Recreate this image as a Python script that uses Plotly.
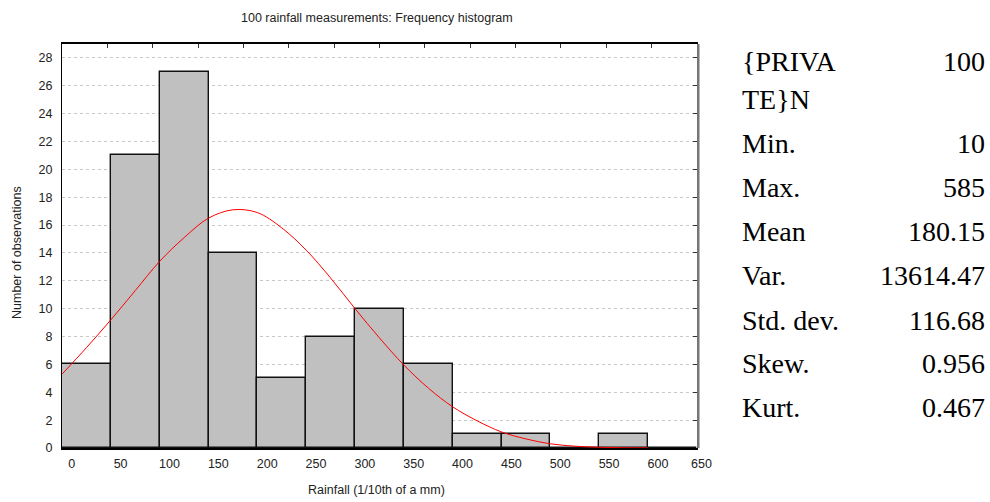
import plotly.graph_objects as go

# ---------------- data ----------------
bin_starts = [-10, 40, 90, 140, 190, 240, 290, 340, 390, 440, 490, 540, 590]
bin_width = 50
counts = [6, 21, 27, 14, 5, 8, 10, 6, 1, 1, 0, 1, 0]

# fitted normal curve
curve_x = [-10, 15, 40, 65, 90, 115, 140, 165, 190, 215, 240, 265, 290, 315,
           340, 365, 390, 415, 440, 465, 490, 515, 540, 565, 590]
curve_y = [5.3, 7.2, 9.2, 11.3, 13.4, 15.1, 16.5, 17.1, 16.9, 15.8, 14.2, 12.2,
           10.0, 7.9, 5.95, 4.3, 2.95, 1.95, 1.15, 0.65, 0.3, 0.13, 0.05, 0.02, 0.01]

x_ticks = [0, 50, 100, 150, 200, 250, 300, 350, 400, 450, 500, 550, 600, 650]
y_ticks = list(range(0, 29, 2))

stat_labels = ["{PRIVA", "TE}N", "Min.", "Max.", "Mean", "Var.", "Std. dev.", "Skew.", "Kurt."]
stat_values = ["100", "", "10", "585", "180.15", "13614.47", "116.68", "0.956", "0.467"]

title = "100 rainfall measurements: Frequency histogram"
x_title = "Rainfall (1/10th of a mm)"
y_title = "Number of observations"

# ---------------- layout constants (page pixels) ----------------
W, H = 990, 502
plot_left, plot_right, plot_top, plot_bottom = 62, 697, 44, 448
L = plot_left
T = plot_top
R = W - plot_right
B = H - plot_bottom
PW = plot_right - plot_left
PH = plot_bottom - plot_top
x_range = [-10, 640]
y_range = [0, 29]

centers = [s + bin_width / 2 for s in bin_starts]

fig = go.Figure()
fig.add_trace(go.Bar(
    x=centers, y=counts, width=bin_width,
    marker=dict(color="#c0c0c0", line=dict(color="#111111", width=1.4)),
    showlegend=False, hoverinfo="x+y",
))
fig.add_trace(go.Scatter(
    x=curve_x, y=curve_y, mode="lines",
    line=dict(color="#ff0000", width=1, shape="spline"),
    showlegend=False, cliponaxis=True,
))

tick_font = dict(family="Liberation Sans, Arial, sans-serif", size=12.5, color="#222222")

shown_x = [v for v in x_ticks if x_range[0] <= v <= x_range[1]]
fig.update_layout(
    width=W, height=H,
    margin=dict(l=L, r=R, t=T, b=B, pad=0),
    paper_bgcolor="white", plot_bgcolor="white",
    bargap=0,
    xaxis=dict(
        range=x_range, tickmode="array", tickvals=shown_x,
        ticktext=[str(v) for v in shown_x],
        showgrid=False, zeroline=False, ticks="", ticklabelstandoff=3,
        showline=True, linecolor="#000000", linewidth=1.5, mirror=True,
        tickfont=tick_font,
    ),
    yaxis=dict(
        range=y_range, tickmode="array", tickvals=y_ticks,
        ticktext=[str(v) for v in y_ticks],
        showgrid=True, gridcolor="#c8c8c8", griddash="dot", gridwidth=1,
        zeroline=False, ticks="", ticklabelstandoff=6,
        showline=True, linecolor="#000000", linewidth=1.2, mirror=True,
        tickfont=tick_font,
    ),
    xaxis2=dict(range=[0, 14], dtick=1, overlaying="x", side="top",
                ticks="inside", ticklen=4, tickcolor="#333333",
                showticklabels=False, showgrid=False, zeroline=False),
    yaxis2=dict(range=y_range, dtick=2, overlaying="y", side="right",
                ticks="inside", ticklen=4, tickcolor="#333333",
                showticklabels=False, showgrid=False, zeroline=False),
    font=dict(family="Liberation Sans, Arial, sans-serif", color="#222222"),
)
# invisible trace to activate the secondary axes (ticks only)
fig.add_trace(go.Scatter(x=[None], y=[None], xaxis="x2", yaxis="y2",
                         showlegend=False, hoverinfo="skip"))

# right border shadow
fig.add_shape(type="line", xref="paper", yref="paper", x0=1.002, x1=1.002, y0=0, y1=1,
              line=dict(color="#777777", width=2.5))

def px_to_paper_x(px):
    return (px - plot_left) / PW

def py_to_paper_y(py):
    return (plot_bottom - py) / PH

# "650" tick label beyond the plotted range
for v in x_ticks:
    if v > x_range[1]:
        fig.add_annotation(
            x=px_to_paper_x(701), y=py_to_paper_y(464),
            xref="paper", yref="paper", xanchor="center", yanchor="middle",
            text=str(v), showarrow=False, font=tick_font,
        )

sans = dict(family="Liberation Sans, Arial, sans-serif", size=12.5, color="#222222")
# title and axis titles
fig.add_annotation(x=px_to_paper_x(377), y=py_to_paper_y(18), xref="paper", yref="paper",
                   xanchor="center", yanchor="middle", text=title, showarrow=False, font=sans)
fig.add_annotation(x=px_to_paper_x(376), y=py_to_paper_y(490), xref="paper", yref="paper",
                   xanchor="center", yanchor="middle", text=x_title, showarrow=False, font=sans)
fig.add_annotation(x=px_to_paper_x(17), y=py_to_paper_y(253), xref="paper", yref="paper",
                   xanchor="center", yanchor="middle", text=y_title, showarrow=False,
                   textangle=-90, font=sans)

# statistics table
row_y = [61, 99, 143, 187, 231, 275, 320, 363, 407]
serif = dict(family="Liberation Serif, Times New Roman, serif", size=28, color="#000000")
for lab, val, yy in zip(stat_labels, stat_values, row_y):
    fig.add_annotation(x=px_to_paper_x(740), y=py_to_paper_y(yy), xref="paper", yref="paper",
                       xanchor="left", yanchor="middle", text=lab, showarrow=False, font=serif)
    if val:
        fig.add_annotation(x=px_to_paper_x(987), y=py_to_paper_y(yy), xref="paper", yref="paper",
                           xanchor="right", yanchor="middle", text=val, showarrow=False, font=serif)

fig.write_html(
    "out.html",
    config={"displayModeBar": False},
    post_script="document.body.style.margin='0';document.body.style.overflow='hidden';",
)
